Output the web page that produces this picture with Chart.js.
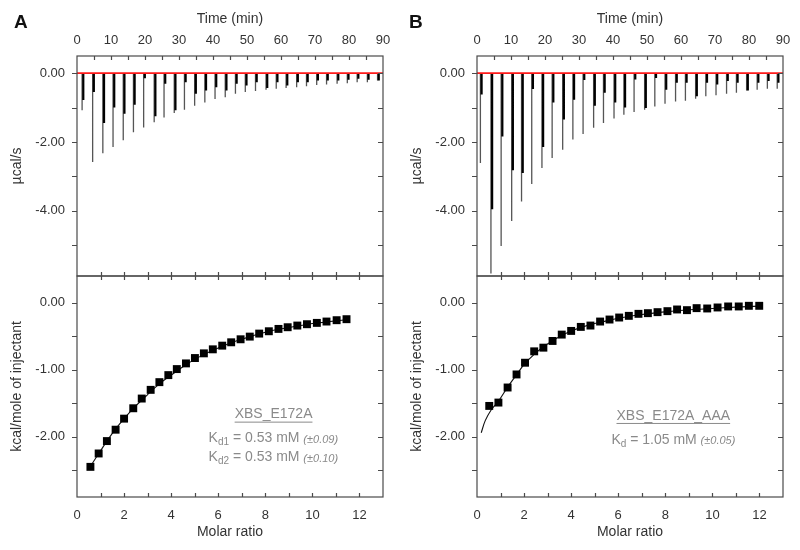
<!DOCTYPE html>
<html lang="en">
<head>
<meta charset="UTF-8">
<title>ITC - XBS_E172A / XBS_E172A_AAA</title>
<script src="https://cdn.jsdelivr.net/npm/chart.js"></script>
<style>
    body { margin: 0; background: #fff; font-family: "Liberation Sans", Arial, sans-serif; }
    #wrap { position: relative; width: 800px; height: 550px; }
    .box { position: absolute; }
    .panel-label { position: absolute; font-weight: bold; font-size: 19px; line-height: 1; color: #111; }
</style>
</head>
<body>
<div id="wrap">
    <div class="box" style="left:0;top:0;width:400px;height:278px"><canvas id="topA"></canvas></div>
    <div class="box" style="left:400px;top:0;width:400px;height:278px"><canvas id="topB"></canvas></div>
    <div class="box" style="left:0;top:266px;width:400px;height:284px"><canvas id="isoA"></canvas></div>
    <div class="box" style="left:400px;top:266px;width:400px;height:284px"><canvas id="isoB"></canvas></div>
    <div class="panel-label" style="left:14px;top:12px">A</div>
    <div class="panel-label" style="left:409px;top:12px">B</div>
</div>

<script>
// axis ticks
const timeTicks = [0, 10, 20, 30, 40, 50, 60, 70, 80, 90];
const timeMinor = [5, 15, 25, 35, 45, 55, 65, 75, 85];
const heatTicks = [0, -2, -4];
const heatMinor = [-1, -3, -5];
const ratioTicks = [0, 2, 4, 6, 8, 10, 12];
const ratioMinor = [1, 3, 5, 7, 9, 11];
const enthalpyTicks = [0, -1, -2];
const enthalpyMinor = [-0.5, -1.5, -2.5];

// raw thermograms (min, ucal/s): injection time, spike depth, depth of the dark return trace
const injTimeA = [1.5, 4.6, 7.6, 10.6, 13.6, 16.6, 19.6, 22.7, 25.6, 28.6, 31.6, 34.6, 37.6, 40.6, 43.6,
    46.6, 49.5, 52.5, 55.6, 58.6, 61.5, 64.6, 67.5, 70.5, 73.4, 76.5, 79.5, 82.4, 85.4, 88.4];
const peakA = [-1.08, -2.58, -2.33, -2.15, -1.95, -1.72, -1.58, -1.43, -1.29, -1.16, -1.06, -0.95, -0.85, -0.75, -0.70,
    -0.60, -0.55, -0.52, -0.48, -0.45, -0.43, -0.41, -0.38, -0.34, -0.33, -0.31, -0.29, -0.26, -0.26, -0.21];
const darkA = [-0.78, -0.55, -1.45, -1.0, -1.18, -0.92, -0.15, -1.25, -0.31, -1.08, -0.26, -0.6, -0.5, -0.41, -0.5,
    -0.31, -0.36, -0.26, -0.43, -0.26, -0.36, -0.26, -0.26, -0.21, -0.21, -0.21, -0.19, -0.16, -0.19, -0.21];

const injTimeB = [1.0, 4.1, 7.1, 10.2, 13.1, 16.1, 19.1, 22.1, 25.2, 28.2, 31.2, 34.3, 37.2, 40.3, 43.2,
    46.2, 49.3, 52.3, 55.3, 58.4, 61.3, 64.3, 67.3, 70.3, 73.4, 76.3, 79.3, 82.4, 85.4, 88.3];
const peakB = [-2.61, -5.83, -5.03, -4.30, -3.73, -3.22, -2.76, -2.47, -2.23, -1.93, -1.77, -1.59, -1.45, -1.32, -1.21,
    -1.13, -1.06, -0.97, -0.89, -0.82, -0.80, -0.74, -0.67, -0.64, -0.60, -0.57, -0.50, -0.48, -0.45, -0.45];
const darkB = [-0.62, -3.96, -1.84, -2.82, -2.90, -0.46, -2.15, -0.85, -1.35, -0.77, -0.2, -0.95, -0.57, -0.85, -1.0,
    -0.18, -1.01, -0.14, -0.48, -0.28, -0.28, -0.67, -0.28, -0.33, -0.23, -0.28, -0.5, -0.28, -0.23, -0.28];

// integrated heats (kcal/mole of injectant) vs molar ratio
const ratioA = [0.57, 0.92, 1.27, 1.64, 2.00, 2.39, 2.75, 3.13, 3.50, 3.88, 4.24, 4.63, 5.01, 5.39, 5.77,
    6.17, 6.55, 6.95, 7.34, 7.74, 8.15, 8.56, 8.95, 9.36, 9.77, 10.19, 10.60, 11.03, 11.45];
const heatA = [-2.45, -2.25, -2.065, -1.895, -1.73, -1.575, -1.43, -1.30, -1.185, -1.08, -0.99, -0.905, -0.825, -0.755, -0.695,
    -0.64, -0.59, -0.545, -0.505, -0.46, -0.425, -0.39, -0.365, -0.34, -0.32, -0.30, -0.28, -0.26, -0.245];
const fitXA = [0.5, 1, 1.5, 2, 2.5, 3, 3.5, 4, 4.5, 5, 5.5, 6, 6.5, 7, 7.5, 8, 8.5, 9, 9.5, 10, 10.5, 11, 11.5];
const fitYA = [-2.48, -2.21, -1.95, -1.73, -1.54, -1.37, -1.21, -1.08, -0.955, -0.845, -0.755, -0.675, -0.605,
    -0.545, -0.49, -0.44, -0.40, -0.37, -0.34, -0.31, -0.29, -0.27, -0.25];

const ratioB = [0.52, 0.91, 1.30, 1.68, 2.04, 2.43, 2.82, 3.21, 3.60, 4.00, 4.41, 4.82, 5.23, 5.63, 6.04,
    6.45, 6.86, 7.26, 7.67, 8.09, 8.50, 8.92, 9.33, 9.78, 10.22, 10.67, 11.12, 11.55, 11.99];
const heatB = [-1.54, -1.49, -1.265, -1.07, -0.895, -0.725, -0.67, -0.57, -0.475, -0.42, -0.36, -0.34, -0.28, -0.25, -0.22,
    -0.195, -0.165, -0.155, -0.14, -0.125, -0.10, -0.11, -0.08, -0.085, -0.07, -0.055, -0.055, -0.045, -0.045];
const fitXB = [0.18, 0.35, 0.6, 0.91, 1.3, 1.67, 2.03, 2.43, 2.81, 3.2, 3.6, 4, 4.5, 5, 5.5, 6, 6.5, 7, 7.5, 8, 9, 10, 11, 12];
const fitYB = [-1.94, -1.76, -1.6, -1.47, -1.26, -1.08, -0.91, -0.77, -0.66, -0.57, -0.49, -0.42, -0.36, -0.31,
    -0.27, -0.23, -0.2, -0.175, -0.155, -0.135, -0.105, -0.085, -0.065, -0.05];

// fit results
const nameA = 'XBS_E172A';
const kdA = [['d1', '0.53', '(±0.09)'], ['d2', '0.53', '(±0.10)']];
const nameB = 'XBS_E172A_AAA';
const kdB = [['d', '1.05', '(±0.05)']];

const family = '"Liberation Sans", Arial, sans-serif';
Chart.defaults.font.family = family;
Chart.defaults.color = '#333';
Chart.defaults.animation = false;

// frame with Origin-style ticks: y outward on the left, inward on the right, x inward
const frameTicks = {
    id: 'frameTicks',
    afterDatasetsDraw(chart, args, opts) {
        const { ctx, chartArea: a, scales } = chart;
        ctx.save();
        ctx.strokeStyle = '#4a4a4a';
        ctx.lineWidth = 1.2;
        ctx.strokeRect(a.left, a.top, a.right - a.left, a.bottom - a.top);
        ctx.beginPath();
        opts.xMarks.forEach(v => {
            const px = Math.round(scales.x.getPixelForValue(v)) + 0.5;
            if (px <= a.left + 1 || px >= a.right - 1) return;
            if (opts.xTop === 'in') { ctx.moveTo(px, a.top); ctx.lineTo(px, a.top + 4); }
            if (opts.xTop === 'cross') { ctx.moveTo(px, a.top - 4); ctx.lineTo(px, a.top + 4); }
            if (opts.xBottom) { ctx.moveTo(px, a.bottom); ctx.lineTo(px, a.bottom - 4); }
        });
        opts.yMarks.forEach(v => {
            const py = Math.round(scales.y.getPixelForValue(v)) + 0.5;
            if (py <= a.top + 1 || py >= a.bottom - 1) return;
            ctx.moveTo(a.left - 5, py); ctx.lineTo(a.left, py);
            ctx.moveTo(a.right, py); ctx.lineTo(a.right - 5, py);
        });
        ctx.stroke();
        ctx.restore();
    }
};

// sample name and Kd text inside the isotherm panels
const noteText = {
    id: 'noteText',
    afterDatasetsDraw(chart, args, opts) {
        if (!opts.title) return;
        const { ctx, scales: { x, y } } = chart;
        ctx.save();
        ctx.fillStyle = '#8a8a8a';
        ctx.strokeStyle = '#8a8a8a';
        ctx.textBaseline = 'middle';
        ctx.textAlign = 'left';
        ctx.font = '14px ' + family;
        const cx = x.getPixelForValue(opts.at[0]);
        const cy = y.getPixelForValue(opts.at[1]);
        const w = ctx.measureText(opts.title).width;
        ctx.fillText(opts.title, cx - w / 2, cy);
        ctx.lineWidth = 1;
        ctx.beginPath();
        ctx.moveTo(cx - w / 2, cy + 7.5);
        ctx.lineTo(cx + w / 2, cy + 7.5);
        ctx.stroke();
        opts.kd.forEach((k, i) => {
            let px = x.getPixelForValue(opts.kdX);
            const py = cy + 24 + i * 19;
            ctx.font = '14px ' + family;
            ctx.fillText('K', px, py);
            px += ctx.measureText('K').width;
            ctx.font = '10px ' + family;
            ctx.fillText(k[0], px, py + 4);
            px += ctx.measureText(k[0]).width;
            ctx.font = '14px ' + family;
            const mid = ' = ' + k[1] + ' mM ';
            ctx.fillText(mid, px, py);
            px += ctx.measureText(mid).width;
            ctx.font = 'italic 11px ' + family;
            ctx.fillText(k[2], px, py + 1);
        });
        ctx.restore();
    }
};

function fixedTicks(list) {
    return scale => { scale.ticks = list.map(v => ({ value: v })); };
}

// fixed axis box size, no extra label overflow padding
function boxSize(prop, size) {
    return s => {
        s[prop] = size;
        s.paddingTop = 0; s.paddingBottom = 0; s.paddingLeft = 0; s.paddingRight = 0;
    };
}

function spikes(times, depths, shift) {
    const pts = [];
    times.forEach((t, i) => {
        pts.push({ x: t + shift, y: 0 }, { x: t + shift, y: depths[i] }, { x: t + shift, y: null });
    });
    return pts;
}

const noGrid = { display: false, drawTicks: false, tickLength: 0 };

function thermogram(id, times, peaks, dark) {
    new Chart(document.getElementById(id), {
        type: 'scatter',
        data: {
            datasets: [
                {
                    data: [{ x: 0, y: 0 }, { x: 90, y: 0 }],
                    showLine: true, borderColor: '#ff1a1a', borderWidth: 1.8, pointRadius: 0
                },
                {
                    data: spikes(times, dark, 0.35),
                    showLine: true, borderColor: '#000', borderWidth: 2.2, pointRadius: 0
                },
                {
                    data: spikes(times, peaks, 0),
                    showLine: true, borderColor: '#555', borderWidth: 1.3, pointRadius: 0
                }
            ]
        },
        options: {
            responsive: true,
            maintainAspectRatio: false,
            layout: { padding: { top: 0, right: 17, bottom: 2, left: 0 } },
            plugins: {
                legend: { display: false },
                tooltip: { enabled: false },
                frameTicks: { xMarks: timeTicks.concat(timeMinor), yMarks: heatTicks.concat(heatMinor), xTop: 'in' }
            },
            scales: {
                x: {
                    type: 'linear', position: 'top', min: 0, max: 90,
                    afterBuildTicks: fixedTicks(timeTicks),
                    afterFit: boxSize('height', 56),
                    grid: noGrid, border: { display: false },
                    ticks: { font: { size: 13 }, padding: 8, maxRotation: 0 },
                    title: { display: true, text: 'Time (min)', font: { size: 14 }, padding: { top: 11, bottom: 0 } }
                },
                y: {
                    type: 'linear', min: -5.9, max: 0.5,
                    afterBuildTicks: fixedTicks(heatTicks),
                    afterFit: boxSize('width', 77),
                    grid: noGrid, border: { display: false },
                    ticks: { font: { size: 13 }, padding: 12, callback: v => v.toFixed(2) },
                    title: { display: true, text: 'µcal/s', font: { size: 14 }, padding: { top: 9, bottom: 0 } }
                }
            }
        },
        plugins: [frameTicks]
    });
}

function isotherm(id, ratio, heat, fitX, fitY, note) {
    new Chart(document.getElementById(id), {
        type: 'scatter',
        data: {
            datasets: [
                {
                    data: ratio.map((r, i) => ({ x: r, y: heat[i] })),
                    pointStyle: 'rect', pointRadius: 5.6, backgroundColor: '#000', borderColor: '#000', borderWidth: 0
                },
                {
                    data: fitX.map((r, i) => ({ x: r, y: fitY[i] })),
                    showLine: true, tension: 0.4, borderColor: '#111', borderWidth: 1.1, pointRadius: 0
                }
            ]
        },
        options: {
            responsive: true,
            maintainAspectRatio: false,
            layout: { padding: { top: 10, right: 17, bottom: 0, left: 0 } },
            plugins: {
                legend: { display: false },
                tooltip: { enabled: false },
                frameTicks: { xMarks: ratioTicks.concat(ratioMinor), yMarks: enthalpyTicks.concat(enthalpyMinor), xTop: 'cross', xBottom: true },
                noteText: note
            },
            scales: {
                x: {
                    type: 'linear', position: 'bottom', min: 0, max: 13,
                    afterBuildTicks: fixedTicks(ratioTicks),
                    afterFit: boxSize('height', 53),
                    grid: noGrid, border: { display: false },
                    ticks: { font: { size: 13 }, padding: 11, maxRotation: 0 },
                    title: { display: true, text: 'Molar ratio', font: { size: 14 }, padding: { top: 0, bottom: 9 } }
                },
                y: {
                    type: 'linear', min: -2.9, max: 0.4,
                    afterBuildTicks: fixedTicks(enthalpyTicks),
                    afterFit: boxSize('width', 77),
                    grid: noGrid, border: { display: false },
                    ticks: { font: { size: 13 }, padding: 12, callback: v => v.toFixed(2) },
                    title: { display: true, text: 'kcal/mole of injectant', font: { size: 14 }, padding: { top: 9, bottom: 0 } }
                }
            }
        },
        plugins: [frameTicks, noteText]
    });
}

thermogram('topA', injTimeA, peakA, darkA);
thermogram('topB', injTimeB, peakB, darkB);
isotherm('isoA', ratioA, heatA, fitXA, fitYA, { title: nameA, at: [8.35, -1.67], kdX: 5.59, kd: kdA });
isotherm('isoB', ratioB, heatB, fitXB, fitYB, { title: nameB, at: [8.34, -1.69], kdX: 5.71, kd: kdB });
</script>
</body>
</html>
